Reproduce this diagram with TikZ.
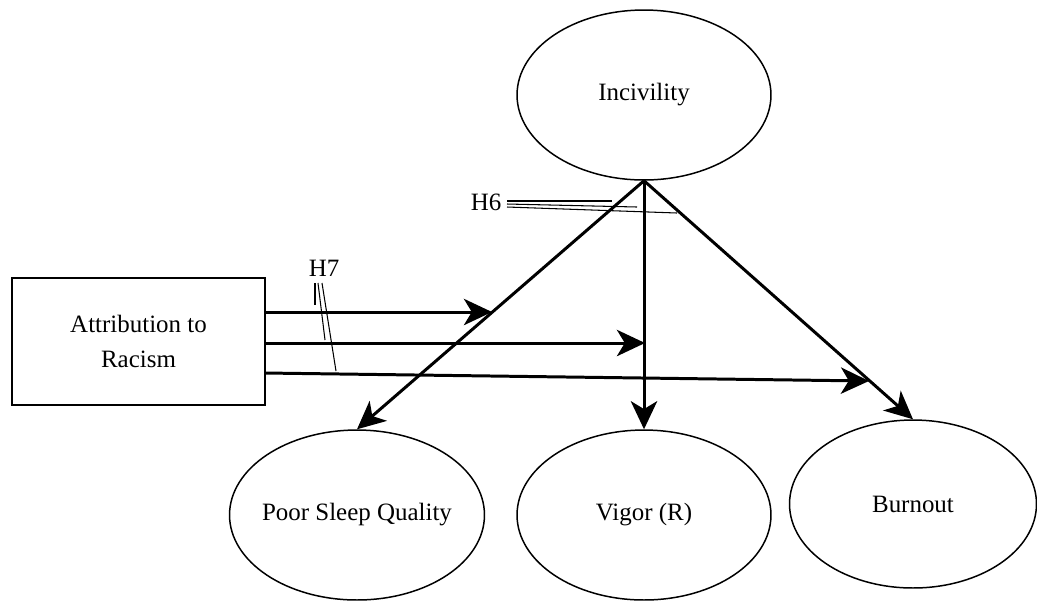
\documentclass[tikz,border=0pt]{standalone}
\usepackage{fontspec}
\setmainfont{Liberation Serif}
\usetikzlibrary{arrows.meta,shapes.geometric}
\begin{document}
\begin{tikzpicture}[x=0.02cm,y=-0.02cm,
  font=\fontsize{14.2}{18}\selectfont,
  construct/.style={draw,ellipse,line width=0.85pt,inner sep=0pt},
  observed/.style={draw,rectangle,line width=0.85pt,align=center,inner sep=0pt},
  path/.style={line width=1.7pt,-{Stealth[length=16pt,width=15pt,inset=4.5pt]}},
  hint/.style={line width=0.6pt},
  lbl/.style={inner sep=0pt}]
\useasboundingbox (0,0) rectangle (1037,600);

% latent constructs and the observed predictor
\node[construct,minimum width=5.08cm,minimum height=3.40cm] (inc) at (644,95) {\makebox[0pt]{\raisebox{-2pt}{Incivility}}};
\node[observed,minimum width=5.06cm,minimum height=2.54cm] (attr) at (138.5,341.5) {Attribution to\\[1.5pt]Racism};
\node[construct,minimum width=5.10cm,minimum height=3.40cm] (sleep) at (357,515) {\makebox[0pt]{Poor Sleep Quality}};
\node[construct,minimum width=5.08cm,minimum height=3.40cm] (vigor) at (644,515) {\makebox[0pt]{Vigor (R)}};
\node[construct,minimum width=4.94cm,minimum height=3.36cm] (burn) at (913,504) {\makebox[0pt]{Burnout}};

% direct paths from incivility
\draw[path] (inc.south) -- (sleep.north);
\draw[path] (inc.south) -- (vigor.north);
\draw[path] (inc.south) -- (burn.north);

% moderation paths from attribution to racism
\coordinate (s1) at (265,312);
\coordinate (s2) at (265,343);
\coordinate (s3) at (265,373);
\coordinate (m1) at (492,312);
\coordinate (m2) at (645,343);
\coordinate (m3) at (869,381);
\draw[path] (s1) -- (m1);
\draw[path] (s2) -- (m2);
\draw[path] (s3) -- (m3);

% hypothesis labels with pointer lines
\node[lbl] (h6) at (486,202) {H6};
\coordinate (h6a) at (507,201);
\coordinate (h6b) at (507,204);
\coordinate (h6c) at (507,207);
\coordinate (h6x) at (612,201);
\coordinate (h6y) at (637,207);
\coordinate (h6z) at (677,213);
\draw[hint] (h6a) -- (h6x);
\draw[hint] (h6b) -- (h6y);
\draw[hint] (h6c) -- (h6z);

\node[lbl] (h7) at (324,268) {H7};
\coordinate (h7a) at (315,283);
\coordinate (h7b) at (318,283);
\coordinate (h7c) at (322,283);
\coordinate (h7x) at (315,305);
\coordinate (h7y) at (325,340);
\coordinate (h7z) at (336,371);
\draw[hint] (h7a) -- (h7x);
\draw[hint] (h7b) -- (h7y);
\draw[hint] (h7c) -- (h7z);
\end{tikzpicture}
\end{document}
